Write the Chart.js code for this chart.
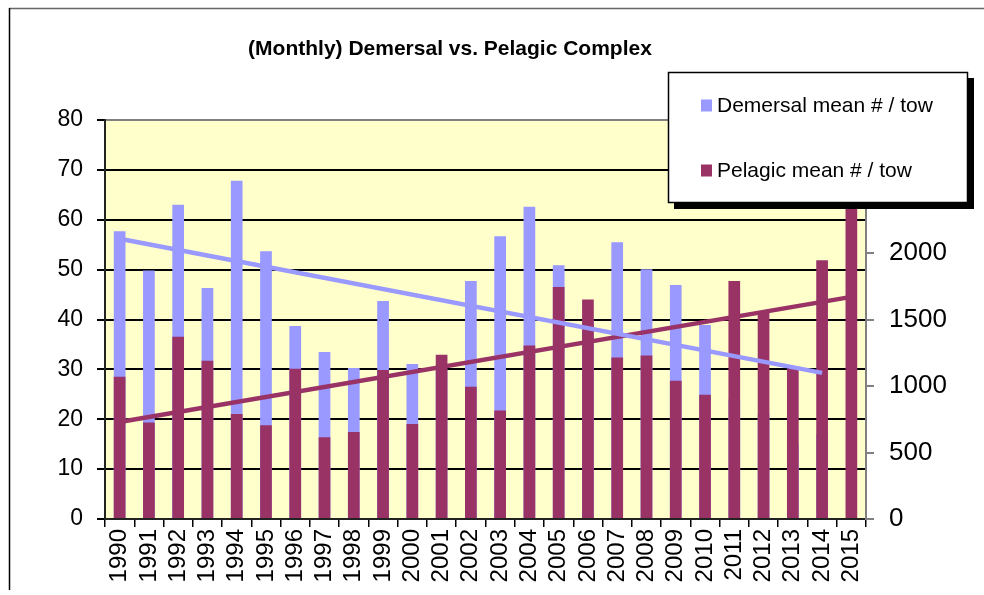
<!DOCTYPE html>
<html>
<head>
<meta charset="utf-8">
<script src="https://cdn.jsdelivr.net/npm/chart.js@4.4.1/dist/chart.umd.min.js"></script>
<style>
  html, body { margin: 0; padding: 0; background: #fff; }
  #wrap { position: relative; width: 984px; height: 595px; }
</style>
</head>
<body>
<div id="wrap"><canvas id="fishChart" width="984" height="595"></canvas></div>
<script>
// Yearly values
const years = ['1990', '1991', '1992', '1993', '1994', '1995', '1996', '1997', '1998', '1999',
               '2000', '2001', '2002', '2003', '2004', '2005', '2006', '2007', '2008', '2009',
               '2010', '2011', '2012', '2013', '2014', '2015'];

// demersal on the left axis (0-80)
const demersal = [57.7, 49.8, 63.0, 46.3, 67.8, 53.7, 38.7, 33.5, 30.3, 43.7,
                  31.1, 30.0, 47.7, 56.7, 62.6, 50.9, 40.0, 55.5, 50.1, 46.9,
                  38.9, 24.0, 21.0, 15.0, 17.0, null];

// pelagic on the right axis (0-3000)
const pelagic = [1070, 725, 1370, 1190, 790, 705, 1130, 615, 655, 1120,
                 715, 1235, 995, 815, 1305, 1745, 1650, 1215, 1230, 1040,
                 935, 1790, 1555, 1130, 1945, 2550];

// linear trend lines, only end points given
const demersalTrend = [56.2, null, null, null, null, null, null, null, null, null,
                       null, null, null, null, null, null, null, null, null, null,
                       null, null, null, null, 29.3, null];
const pelagicTrend = [730, null, null, null, null, null, null, null, null, null,
                      null, null, null, null, null, null, null, null, null, null,
                      null, null, null, null, null, 1670];

const chartTitle = '(Monthly) Demersal vs. Pelagic Complex';
const legendItems = [
  { text: 'Demersal mean # / tow', color: '#9999FF' },
  { text: 'Pelagic mean # / tow', color: '#993366' }
];

const FONT = '"Liberation Sans", Arial, sans-serif';

// background, plot fill, frame, title and the floating legend box
const decorations = {
  id: 'decorations',
  beforeDraw(chart) {
    const { ctx, chartArea: a } = chart;
    ctx.save();
    ctx.fillStyle = '#fff';
    ctx.fillRect(0, 0, chart.width, chart.height);
    ctx.fillStyle = '#FFFFCC';
    ctx.fillRect(a.left, a.top, a.right - a.left, a.bottom - a.top);
    // outer frame
    ctx.strokeStyle = '#666';
    ctx.lineWidth = 1.5;
    ctx.beginPath();
    ctx.moveTo(9, 8.5);
    ctx.lineTo(984, 8.5);
    ctx.stroke();
    ctx.strokeStyle = '#000';
    ctx.beginPath();
    ctx.moveTo(9.5, 8);
    ctx.lineTo(9.5, 590);
    ctx.stroke();
    ctx.restore();
  },
  afterDraw(chart) {
    const ctx = chart.ctx;
    ctx.save();
    ctx.fillStyle = '#000';
    ctx.font = 'bold 21px ' + FONT;
    ctx.textAlign = 'center';
    ctx.textBaseline = 'alphabetic';
    ctx.fillText(chartTitle, 450, 55);

    // legend box with shadow
    ctx.fillStyle = '#000';
    ctx.fillRect(674, 78, 300, 131);
    ctx.fillStyle = '#fff';
    ctx.fillRect(668, 72, 300, 131);
    ctx.strokeStyle = '#000';
    ctx.lineWidth = 1.5;
    ctx.strokeRect(668.5, 72.5, 299, 130);
    ctx.font = '21px ' + FONT;
    ctx.textAlign = 'left';
    legendItems.forEach((item, i) => {
      const base = 111.5 + i * 65;
      ctx.fillStyle = item.color;
      ctx.fillRect(701, base - 12, 11, 12);
      ctx.fillStyle = '#000';
      ctx.fillText(item.text, 717, base);
    });
    ctx.restore();
  }
};

new Chart(document.getElementById('fishChart').getContext('2d'), {
  type: 'bar',
  data: {
    labels: years,
    datasets: [
      { type: 'line', label: 'Demersal trend', data: demersalTrend, yAxisID: 'y',
        borderColor: '#9999FF', borderWidth: 4.5, pointRadius: 0, spanGaps: true, order: 0 },
      { type: 'line', label: 'Pelagic trend', data: pelagicTrend, yAxisID: 'y1',
        borderColor: '#993366', borderWidth: 4.5, pointRadius: 0, spanGaps: true, order: 0 },
      { label: 'Pelagic mean # / tow', data: pelagic, yAxisID: 'y1', backgroundColor: '#993366',
        grouped: false, barPercentage: 0.4, categoryPercentage: 1, order: 1 },
      { label: 'Demersal mean # / tow', data: demersal, yAxisID: 'y', backgroundColor: '#9999FF',
        grouped: false, barPercentage: 0.4, categoryPercentage: 1, order: 2 }
    ]
  },
  options: {
    responsive: false,
    devicePixelRatio: 1,
    animation: false,
    layout: { padding: { top: 120, left: 0, right: 0, bottom: 0 } },
    plugins: {
      legend: { display: false },
      title: { display: false },
      tooltip: { enabled: false }
    },
    scales: {
      x: {
        offset: true,
        grid: { offset: true, drawOnChartArea: false, tickLength: 8, tickColor: '#000', lineWidth: 1.5 },
        border: { color: '#222', width: 2 },
        ticks: { autoSkip: false, minRotation: 90, maxRotation: 90, padding: 2, color: '#000',
                 font: { family: FONT, size: 24 } },
        afterFit(scale) { scale.height = 76; }
      },
      y: {
        position: 'left',
        min: 0, max: 80,
        ticks: { stepSize: 10, padding: 14, color: '#000', font: { family: FONT, size: 23 } },
        grid: {
          color: ctx => (ctx.tick && ctx.tick.value === 80 ? '#808080' : '#000'),
          lineWidth: 2, tickLength: 8, tickColor: '#000'
        },
        border: { color: '#222', width: 2 },
        afterFit(scale) { scale.width = 105; }
      },
      y1: {
        position: 'right',
        min: 0, max: 3000,
        ticks: { stepSize: 500, padding: 15, color: '#000', font: { family: FONT, size: 26 },
                 callback: v => String(v) },
        grid: { drawOnChartArea: false, tickLength: 8, color: '#808080', lineWidth: 2 },
        border: { color: '#808080', width: 2 },
        afterFit(scale) { scale.width = 118; }
      }
    }
  },
  plugins: [decorations]
});
</script>
</body>
</html>
